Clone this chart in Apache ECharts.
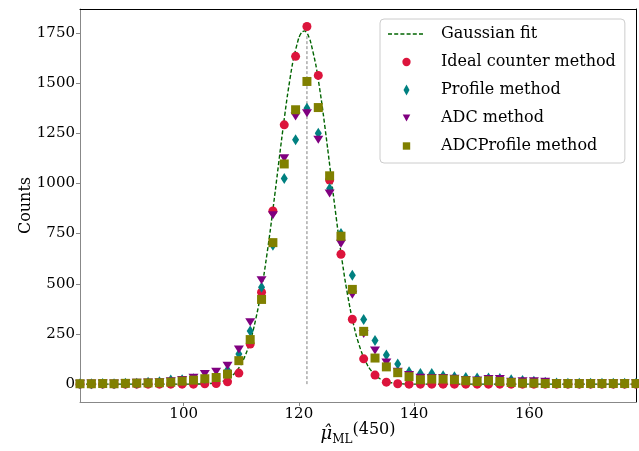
<!DOCTYPE html>
<html><head><meta charset="utf-8">
<script src="https://cdn.jsdelivr.net/npm/echarts@6/dist/echarts.min.js"></script>
<style>html,body{margin:0;padding:0;background:#fff}#c{width:639px;height:451px}</style>
</head><body><div id="c"></div>
<script>
// Bin centres (x)
const xValues = [82.00, 83.97, 85.94, 87.91, 89.88, 91.85, 93.82, 95.79, 97.76, 99.73,
  101.70, 103.67, 105.64, 107.61, 109.58, 111.55, 113.52, 115.49, 117.46, 119.43,
  121.40, 123.37, 125.34, 127.31, 129.28, 131.25, 133.22, 135.19, 137.16, 139.13,
  141.10, 143.07, 145.04, 147.01, 148.98, 150.95, 152.92, 154.89, 156.86, 158.83,
  160.80, 162.77, 164.74, 166.71, 168.68, 170.65, 172.62, 174.59, 176.56, 178.53];
const idealCounter = [0, 0, 0, 0, 0, 0, 0, 0, 0, 0,
  0, 2, 3, 12, 55, 200, 458, 863, 1292, 1633,
  1782, 1538, 1017, 647, 323, 126, 45, 10, 2, 0,
  0, 0, 0, 0, 0, 0, 0, 0, 0, 0,
  0, 0, 0, 0, 0, 0, 0, 0, 0, 0];
const profileMethod = [2, 2, 3, 2, 4, 5, 10, 12, 20, 22,
  27, 28, 35, 70, 150, 265, 483, 692, 1025, 1217,
  1375, 1250, 975, 750, 542, 322, 217, 145, 100, 62,
  53, 53, 42, 37, 33, 30, 30, 28, 22, 18,
  15, 10, 6, 5, 5, 5, 5, 4, 4, 4];
const adcMethod = [2, 3, 3, 3, 5, 7, 8, 10, 14, 20,
  32, 50, 62, 92, 172, 308, 517, 842, 1125, 1333,
  1350, 1217, 950, 700, 445, 250, 167, 108, 62, 45,
  32, 30, 30, 27, 20, 18, 25, 25, 12, 14,
  14, 12, 6, 5, 5, 5, 4, 4, 4, 4];
const adcProfileMethod = [2, 2, 3, 2, 4, 5, 6, 7, 10, 15,
  20, 27, 33, 50, 117, 222, 422, 705, 1097, 1367,
  1508, 1378, 1038, 737, 472, 263, 130, 86, 57, 37,
  22, 25, 25, 22, 17, 13, 17, 13, 8, 5,
  5, 3, 3, 3, 3, 3, 3, 3, 3, 3];
// Gaussian fit curve
const fitX = [82, 100, 102, 104, 106, 107, 108, 109, 110, 111, 112, 113, 114, 115, 116, 117, 118, 119, 120, 120.5, 121, 121.5, 122, 123, 124, 125, 126, 127, 128, 129, 130, 131, 132, 133, 134, 135, 136, 138, 140, 178.53];
const fitY = [0, 0, 0.3, 1.8, 8, 16, 32, 58, 100, 165, 260, 390, 557, 759, 985, 1219, 1436, 1613, 1726, 1753, 1760, 1745, 1709, 1582, 1396, 1173, 939, 716, 521, 361, 238, 150, 90, 51, 28, 14, 7, 1.5, 0.2, 0];
// Vertical reference line
const vlineX = [121.4, 121.4];
const vlineY = [0, 1745];
const xTicks = [100, 120, 140, 160];
const yTicks = [0, 250, 500, 750, 1000, 1250, 1500, 1750];
const names = ['Gaussian fit', 'Ideal counter method', 'Profile method', 'ADC method', 'ADCProfile method'];

function pairs(xs, ys) { return xs.map((x, i) => [x, ys[i]]); }

const FONT = 'DejaVu Serif';
const AX = '#888888';
const xMin = xValues[0], xMax = xValues[xValues.length - 1];
const yMin = -89, yMax = 1869;
const plain = v => String(v);

const chart = echarts.init(document.getElementById('c'), null, {renderer: 'canvas'});
chart.setOption({
  animation: false,
  backgroundColor: '#ffffff',
  grid: {left: 80, right: 3, top: 9, bottom: 49, containLabel: false},
  legend: {
    orient: 'vertical', left: 380, top: 19,
    padding: [6, 9, 8, 8],
    itemWidth: 37, itemHeight: 12, itemGap: 10,
    backgroundColor: 'rgba(255,255,255,0.85)',
    borderColor: '#cccccc', borderWidth: 1, borderRadius: 4,
    textStyle: {fontFamily: FONT, fontSize: 16, color: '#000', lineHeight: 18, padding: [0, 0, 0, 11]},
    data: [
      {name: names[0], icon: 'path://M0 0M37 12M0 5.3L4 5.3L4 6.7L0 6.7ZM6.2 5.3L10.2 5.3L10.2 6.7L6.2 6.7ZM12.4 5.3L16.4 5.3L16.4 6.7L12.4 6.7ZM18.6 5.3L22.6 5.3L22.6 6.7L18.6 6.7ZM24.8 5.3L28.8 5.3L28.8 6.7L24.8 6.7ZM31 5.3L35 5.3L35 6.7L31 6.7Z'},
      {name: names[1], icon: 'path://M0 0M12 12M1.85 6A4.15 4.15 0 1 1 10.15 6A4.15 4.15 0 1 1 1.85 6Z'},
      {name: names[2], icon: 'path://M0 0M12 12M6 0.5L9 6L6 11.5L3 6Z'},
      {name: names[3], icon: 'path://M0 0M12 12M2.2 2.6L9.8 2.6L6 9.6Z'},
      {name: names[4], icon: 'path://M0 0M12 12M2.3 2.3L9.7 2.3L9.7 9.7L2.3 9.7Z'}
    ]
  },
  xAxis: [{
    type: 'value', min: xMin, max: xMax, position: 'bottom',
    axisLine: {show: true, onZero: false, lineStyle: {color: AX, width: 1}},
    axisTick: {show: true, customValues: xTicks, length: 4, lineStyle: {color: AX}},
    axisLabel: {customValues: xTicks, formatter: plain, fontFamily: FONT, fontSize: 15, color: '#000', margin: 5},
    splitLine: {show: false},
    name: '{mu|\u03bc\u0302}{sub|ML}{n|(450)}',
    nameLocation: 'middle', nameGap: 20, nameMoveOverlap: false,
    nameTextStyle: {
      fontFamily: FONT, color: '#000',
      rich: {
        mu: {fontFamily: FONT, fontStyle: 'italic', fontSize: 18, lineHeight: 24, verticalAlign: 'middle'},
        sub: {fontFamily: FONT, fontSize: 12, lineHeight: 12, verticalAlign: 'bottom'},
        n: {fontFamily: FONT, fontSize: 16, lineHeight: 24, verticalAlign: 'top'}
      }
    }
  }, {
    type: 'value', min: xMin, max: xMax, position: 'top',
    axisLine: {show: true, onZero: false, lineStyle: {color: '#000', width: 1}},
    axisTick: {show: false}, axisLabel: {show: false}, splitLine: {show: false}
  }],
  yAxis: [{
    type: 'value', min: yMin, max: yMax, position: 'left',
    axisLine: {show: true, onZero: false, lineStyle: {color: AX, width: 1}},
    axisTick: {show: true, customValues: yTicks, length: 4, lineStyle: {color: AX}},
    axisLabel: {customValues: yTicks, formatter: plain, fontFamily: FONT, fontSize: 15, color: '#000', margin: 5},
    splitLine: {show: false},
    name: 'Counts', nameLocation: 'middle', nameGap: 46, nameMoveOverlap: false,
    nameTextStyle: {fontFamily: FONT, fontSize: 16, color: '#000'}
  }, {
    type: 'value', min: yMin, max: yMax, position: 'right',
    axisLine: {show: true, onZero: false, lineStyle: {color: '#000', width: 1}},
    axisTick: {show: false}, axisLabel: {show: false}, splitLine: {show: false}
  }],
  series: [
    {
      name: 'vline', type: 'line', data: pairs(vlineX, vlineY), symbol: 'none',
      lineStyle: {color: '#808080', width: 1, type: [3, 2]}, z: 1, silent: true
    },
    {
      name: names[0], type: 'line', data: pairs(fitX, fitY), symbol: 'none', smooth: 0.2,
      lineStyle: {color: '#006400', width: 1.4, type: [4, 2.2]}, itemStyle: {color: '#006400'}, z: 2
    },
    {
      name: names[1], type: 'scatter', data: pairs(xValues, idealCounter),
      symbol: 'circle', symbolSize: 9, itemStyle: {color: '#DC143C', opacity: 1}, z: 3
    },
    {
      name: names[2], type: 'scatter', data: pairs(xValues, profileMethod),
      symbol: 'diamond', symbolSize: [7, 11], itemStyle: {color: '#008080', opacity: 1}, z: 3
    },
    {
      name: names[3], type: 'scatter', data: pairs(xValues, adcMethod),
      symbol: 'triangle', symbolRotate: 180, symbolSize: [10, 8], itemStyle: {color: '#800080', opacity: 1}, z: 3
    },
    {
      name: names[4], type: 'scatter', data: pairs(xValues, adcProfileMethod),
      symbol: 'rect', symbolSize: 9, itemStyle: {color: '#808000', opacity: 1}, z: 3
    }
  ]
});
</script>
</body></html>
